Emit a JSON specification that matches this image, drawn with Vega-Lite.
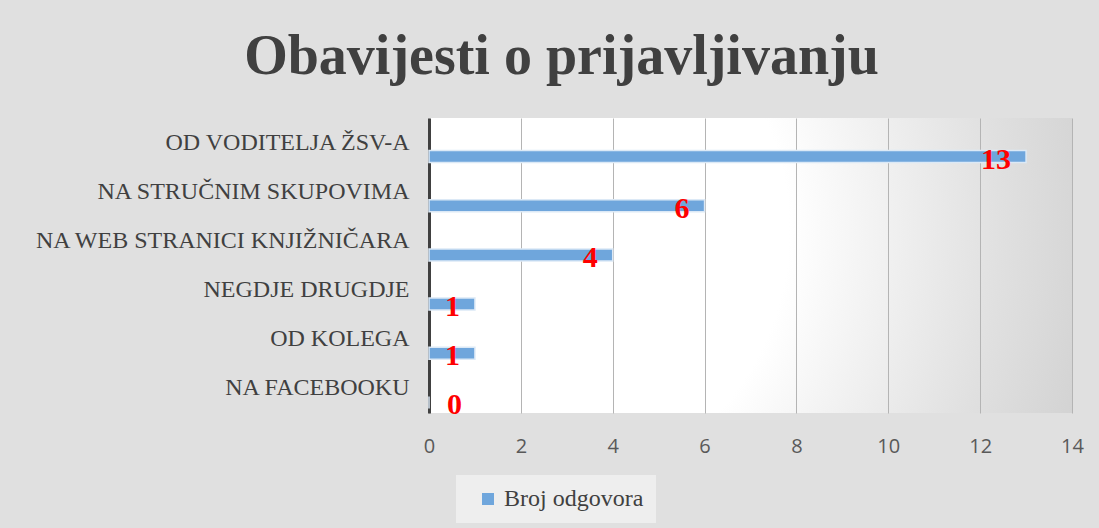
{
  "$schema": "https://vega.github.io/schema/vega-lite/v6.json",
  "width": 643,
  "height": 295,
  "autosize": {"type": "none"},
  "padding": {"left": 429, "top": 118, "right": 27, "bottom": 115},
  "background": "#e0e0e0",
  "title": {
    "text": "Obavijesti o prijavljivanju",
    "font": "Liberation Serif",
    "fontSize": 56,
    "fontWeight": "bold",
    "color": "#404040",
    "anchor": "middle",
    "frame": "group",
    "dx": -189,
    "offset": 32
  },
  "data": {
    "values": [
      {"cat": "OD VODITELJA ŽSV-A", "v": 13},
      {"cat": "NA STRUČNIM SKUPOVIMA", "v": 6},
      {"cat": "NA WEB STRANICI KNJIŽNIČARA", "v": 4},
      {"cat": "NEGDJE DRUGDJE", "v": 1},
      {"cat": "OD KOLEGA", "v": 1},
      {"cat": "NA FACEBOOKU", "v": 0}
    ]
  },
  "encoding": {
    "y": {
      "field": "cat",
      "type": "nominal",
      "sort": null,
      "scale": {"paddingInner": 0, "paddingOuter": 0},
      "axis": {
        "title": null,
        "domain": true,
        "domainColor": "#404040",
        "domainWidth": 3,
        "ticks": false,
        "labelFont": "Liberation Serif",
        "labelFontSize": 24,
        "labelColor": "#404040",
        "labelPadding": 20,
        "labelLimit": 0
      }
    },
    "x": {
      "field": "v",
      "type": "quantitative",
      "scale": {"domain": [0, 14], "nice": false},
      "axis": {
        "title": null,
        "values": [0, 2, 4, 6, 8, 10, 12, 14],
        "grid": true,
        "gridColor": "#b4b4b4",
        "gridWidth": 1,
        "domain": false,
        "ticks": false,
        "labelFlush": false,
        "labelFont": "Open Sans",
        "labelFontSize": 20,
        "labelColor": "#595959",
        "labelPadding": 23
      }
    }
  },
  "layer": [
    {
      "mark": {"type": "bar", "size": 12, "yOffset": 14, "stroke": "#dce9f6", "strokeWidth": 1.5},
      "encoding": {
        "color": {
          "datum": "Broj odgovora",
          "scale": {"range": ["#6fa6dc"]},
          "legend": {
            "title": null,
            "orient": "none",
            "legendX": 27,
            "legendY": 357,
            "symbolType": "square",
            "symbolSize": 144,
            "symbolStrokeWidth": 0,
            "symbolOffset": 8,
            "labelFont": "Liberation Serif",
            "labelFontSize": 24,
            "labelColor": "#404040",
            "labelOffset": 4,
            "fillColor": "rgba(255,255,255,0.45)",
            "padding": 12
          }
        }
      }
    },
    {
      "transform": [{"filter": "datum.v > 0"}],
      "mark": {"type": "text", "align": "right", "baseline": "middle", "dx": -15, "yOffset": 17, "font": "Liberation Serif", "fontSize": 30, "fontWeight": "bold", "fill": "#ff0000"},
      "encoding": {"text": {"field": "v", "type": "quantitative"}}
    },
    {
      "transform": [{"filter": "datum.v == 0"}],
      "mark": {"type": "text", "align": "left", "baseline": "middle", "dx": 18, "yOffset": 17, "font": "Liberation Serif", "fontSize": 30, "fontWeight": "bold", "fill": "#ff0000"},
      "encoding": {"text": {"field": "v", "type": "quantitative"}}
    }
  ],
  "config": {
    "view": {
      "stroke": null,
      "fill": {
        "gradient": "radial",
        "x1": 0.14, "y1": 0.445, "r1": 0,
        "x2": 0.14, "y2": 0.445, "r2": 1,
        "stops": [
          {"offset": 0, "color": "#ffffff"},
          {"offset": 0.42, "color": "#ffffff"},
          {"offset": 0.75, "color": "#e0e0e0"},
          {"offset": 0.92, "color": "#d2d2d2"},
          {"offset": 1, "color": "#cccccc"}
        ]
      }
    }
  }
}
